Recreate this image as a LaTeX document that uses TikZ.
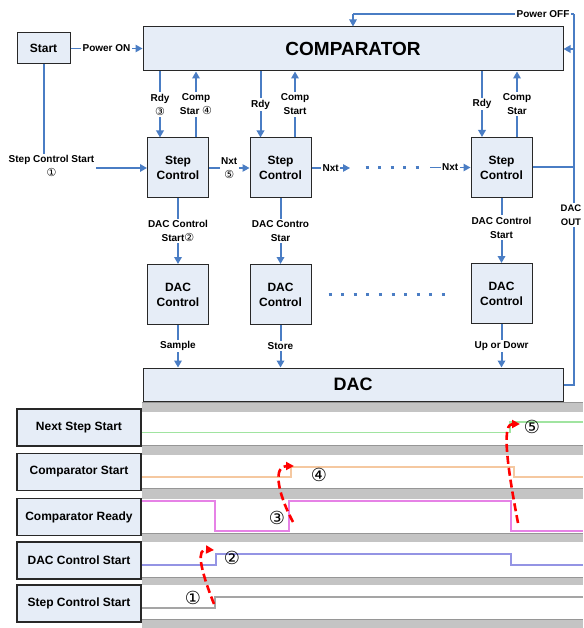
\documentclass[tikz,border=0pt]{standalone}
\usepackage{fontspec}
\setmainfont{Liberation Sans}
\newfontfamily\circfont{DejaVu Sans}
\usetikzlibrary{arrows.meta}

\definecolor{flowblue}{RGB}{74,125,196}
\definecolor{boxfill}{RGB}{230,237,247}
\definecolor{boxline}{RGB}{40,40,40}
\definecolor{bandgray}{RGB}{196,196,196}
\definecolor{bandedge}{RGB}{150,150,150}
\definecolor{sigGreen}{RGB}{160,228,160}
\definecolor{sigOrange}{RGB}{245,200,160}
\definecolor{sigPink}{RGB}{230,130,230}
\definecolor{sigBlue}{RGB}{148,148,228}
\definecolor{sigGray}{RGB}{165,165,165}
\definecolor{cueRed}{RGB}{255,0,0}

% circled step numbers
\newcommand\cnum[1]{{\circfont\mdseries\fontsize{11}{14}\selectfont #1}}

\begin{document}
\begin{tikzpicture}[x=1pt,y=-1pt,
  blk/.style={draw=boxline,line width=1pt,fill=boxfill,inner sep=0pt,align=center,
    font=\bfseries\fontsize{12}{15}\selectfont},
  unit/.style={blk,minimum width=61pt,minimum height=60pt},
  wide/.style={blk,minimum width=420pt,font=\bfseries\fontsize{19}{22}\selectfont},
  flow/.style={draw=flowblue,line width=2pt},
  flowthin/.style={draw=flowblue,line width=1.2pt},
  arrowed/.style={-{Triangle[length=7pt,width=7.5pt]}},
  lbl/.style={fill=white,inner sep=1.5pt,align=center,
    font=\bfseries\fontsize{10}{14}\selectfont},
  tlbl/.style={draw=boxline,line width=1.2pt,fill=boxfill,minimum width=124pt,
    minimum height=37pt,inner sep=0pt,font=\bfseries\fontsize{12}{14}\selectfont},
  band/.style={fill=bandgray},
  wave/.style={line width=1.1pt},
  cue/.style={draw=cueRed,line width=2.6pt,dash pattern=on 8pt off 4pt,
    -{Triangle[length=8pt,width=8pt]}},
  cnode/.style={inner sep=0pt,font=\circfont\fontsize{18}{18}\selectfont}
]
\useasboundingbox (0,0) rectangle (583,628);

% ---------------- block diagram ----------------
\node[blk,minimum width=53pt,minimum height=31pt] (start) at (43.5,48.5) {Start};
\node[wide,minimum height=44pt] (comp) at (353,49) {COMPARATOR};

\node[unit] (sc1) at (178,168) {Step\\Control};
\node[unit] (sc2) at (280.5,168) {Step\\Control};
\node[unit] (sc3) at (501.5,167.5) {Step\\Control};

\node[unit] (dc1) at (178,294.5) {DAC\\Control};
\node[unit] (dc2) at (280.5,294.5) {DAC\\Control};
\node[unit] (dc3) at (501.5,293.5) {DAC\\Control};

\node[wide,minimum height=33pt,font=\bfseries\fontsize{18}{22}\selectfont] (dac) at (353,384.5) {DAC};

% power on / start of the first step
\draw[flowthin,arrowed] (start.east) -- node[lbl]{Power ON} (comp.west |- start.east);
\draw[flow,arrowed] (start.south) |- node[lbl,pos=0.5,xshift=8pt,yshift=2pt]
  {Step Control Start\\\cnum{①}} (sc1.west);

% ready / comparator start handshakes
\coordinate (r1) at ([xshift=-18pt]sc1.north);
\coordinate (s1) at ([xshift=18pt]sc1.north);
\coordinate (r2) at ([xshift=-20pt]sc2.north);
\coordinate (s2) at ([xshift=14.5pt]sc2.north);
\coordinate (r3) at ([xshift=-19.5pt]sc3.north);
\coordinate (s3) at ([xshift=15.5pt]sc3.north);

\draw[flow,arrowed] (r1 |- comp.south) -- node[lbl]{Rdy\\\cnum{③}} (r1);
\draw[flow,arrowed] (s1) -- node[lbl]{Comp\\Star \cnum{④}} (s1 |- comp.south);
\draw[flow,arrowed] (r2 |- comp.south) -- node[lbl]{Rdy} (r2);
\draw[flow,arrowed] (s2) -- node[lbl]{Comp\\Start} (s2 |- comp.south);
\draw[flow,arrowed] (r3 |- comp.south) -- node[lbl]{Rdy} (r3);
\draw[flow,arrowed] (s3) -- node[lbl]{Comp\\Star} (s3 |- comp.south);

% next-step chain
\coordinate (n2end) at (350,168);
\coordinate (n3beg) at (430,167.5);
\draw[flowthin,arrowed] (sc1.east) -- node[lbl]{Nxt\\\cnum{⑤}} (sc2.west);
\draw[flowthin,arrowed] (sc2.east) -- node[lbl]{Nxt} (n2end);
\draw[flowthin,arrowed] (n3beg) -- node[lbl]{Nxt} (sc3.west);
\draw[flowblue,line width=3pt,dash pattern=on 3pt off 9.5pt] (365.5,168) -- (420,168);

% DAC control start
\draw[flow,arrowed] (sc1.south) -- node[lbl]{DAC Control\\Start\cnum{②}} (dc1.north);
\draw[flow,arrowed] (sc2.south) -- node[lbl]{DAC Contro\\Star} (dc2.north);
\draw[flow,arrowed] (sc3.south) -- node[lbl,yshift=3pt]{DAC Control\\Start} (dc3.north);
\draw[flowblue,line width=3pt,dash pattern=on 3pt off 9.6pt] (328.5,294) -- (446,294);

% DAC control to DAC
\draw[flow,arrowed] (dc1.south) -- node[lbl]{Sample} (dc1.south |- dac.north);
\draw[flow,arrowed] (dc2.south) -- node[lbl]{Store} (dc2.south |- dac.north);
\draw[flow,arrowed] (dc3.south) -- node[lbl]{Up or Dowr} (dc3.south |- dac.north);

% DAC output bus back to the comparator
\coordinate (busTop) at (574,14);
\draw[flow] (dac.east) -- (dac.east -| busTop) -- node[lbl,pos=0.4575,xshift=-3pt,
  font=\bfseries\fontsize{9.5}{14}\selectfont]{DAC\\OUT} (busTop);
\draw[flow] (sc3.east) -- (sc3.east -| busTop);
\draw[flow,arrowed] (comp.east -| busTop) -- (comp.east);
\draw[flowthin] (busTop) -- node[lbl,pos=0.14]{Power OFF} (busTop -| comp.north);
\draw[flowthin,arrowed] (busTop -| comp.north) -- (comp.north);

% ---------------- timing chart ----------------
\foreach \ya/\yb in {402/412, 445/455, 488/499, 533/542, 577/585, 619/628}{
  \fill[band] (142,\ya) rectangle (583,\yb);
  \draw[bandedge,line width=1pt] (142,\ya+0.5) -- (583,\ya+0.5);
}

\node[tlbl] (tNext) at (79,427.5) {Next Step Start};
\node[tlbl] (tCmpS) at (79,472) {Comparator Start};
\node[tlbl] (tCmpR) at (79,517) {Comparator Ready};
\node[tlbl] (tDacS) at (79,560.5) {DAC Control Start};
\node[tlbl] (tStpS) at (79,603.5) {Step Control Start};

% waveforms
\draw[wave,sigGreen] (142,432.5) -- (510,432.5) -- (510,422) -- (583,422);
\draw[wave,sigOrange] (142,477) -- (291,477) -- (291,467) -- (514,467) -- (514,477) -- (583,477);
\draw[wave,sigPink] (142,501) -- (215,501) -- (215,531) -- (289,531) -- (289,501)
  -- (511,501) -- (511,531) -- (583,531);
\draw[wave,sigBlue] (142,565) -- (216,565) -- (216,554) -- (511,554) -- (511,565) -- (583,565);
\draw[wave,sigGray] (142,608) -- (215,608) -- (215,597) -- (583,597);

% step numbers
\node[cnode] (c1) at (193,598) {①};
\node[cnode] (c2) at (232,558) {②};
\node[cnode] (c3) at (277,518) {③};
\node[cnode] (c4) at (319,475) {④};
\node[cnode] (c5) at (532,427) {⑤};

% cause-and-effect cues
\draw[cue] (214,604) .. controls (199,566) and (197,549) .. (214,550);
\draw[cue] (293,522) .. controls (276,490) and (274,466) .. (294,466);
\draw[cue] (518,523) .. controls (505,455) and (503,424) .. (520,424);
\end{tikzpicture}
\end{document}
